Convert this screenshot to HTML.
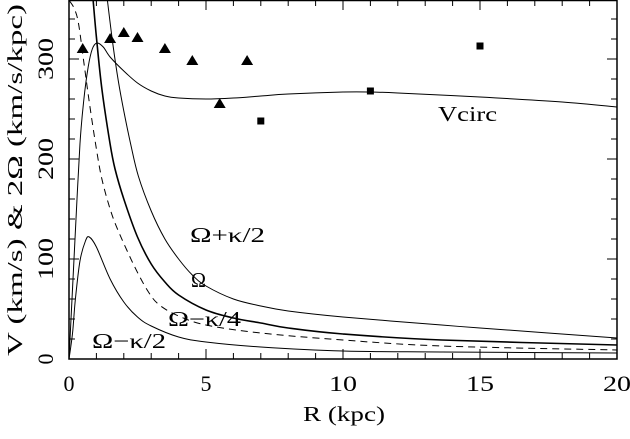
<!DOCTYPE html>
<html><head><meta charset="utf-8"><style>
html,body{margin:0;padding:0;background:#fff;}
svg{display:block;font-family:"Liberation Serif",serif;}
</style></head><body>
<svg id="chart" width="630" height="439" viewBox="0 0 630 439">
<g id="plot"></g>
<g id="axes"></g>
<text x="303" y="421" font-size="21" textLength="82" lengthAdjust="spacingAndGlyphs">R (kpc)</text>
<text transform="translate(22,356) rotate(-90)" font-size="21" textLength="352" lengthAdjust="spacingAndGlyphs">V (km/s) &amp; 2Ω (km/s/kpc)</text>
<text x="190" y="242" font-size="21" textLength="75" lengthAdjust="spacingAndGlyphs">Ω+κ/2</text>
<text x="191" y="287" font-size="21" textLength="15" lengthAdjust="spacingAndGlyphs">Ω</text>
<text x="168" y="326" font-size="21" textLength="73" lengthAdjust="spacingAndGlyphs">Ω−κ/4</text>
<text x="92" y="348" font-size="21" textLength="74" lengthAdjust="spacingAndGlyphs">Ω−κ/2</text>
<text x="438" y="121" font-size="21" textLength="59" lengthAdjust="spacingAndGlyphs">Vcirc</text>
</svg>
<script>
const vcR = [0,0.11,0.23,0.4,0.54,0.7,0.85,1.02,1.25,1.5,2,2.5,3,3.5,4,5,6,7,8,10,11,12,15,18,20];
const vcV = [0,60,126,215,259,292,310,316,312,302,288,276,268,263,261,260,261,263,265,267,267,266,262,257,252];
const omR = [0.88,1,1.2,1.5,1.68,2,2.5,3,3.5,4,5,6,7,8,10,13.6,20];
const omV = [359,322,270,215,190,160,122,95,77,64,49,41,36,31,25,19,14];
const opR = [1.4,1.6,1.8,2,2.25,2.53,3,3.5,4,4.5,5,6,7,8,10,13.6,15,20];
const opV = [359,315,278,248,215,183,148,120,100,84,73,60,53,48,42,34,31,21];
const oqR = [0.02,0.2,0.35,0.55,0.75,1,1.2,1.5,1.8,2.4,2.9,3.3,4,5,7,10,13.6,20];
const oqV = [358,350,335,295,255,210,180,150,128,92,67,54,43,34,26,19,13,9];
const ohR = [0,0.13,0.23,0.4,0.6,0.74,1,1.5,2,2.5,3,4,5,7,10,13.6,20];
const ohV = [0,26,59,98,118,122,112,80,57,42,33,22,17,12,8,7,6];
const triR = [0.5,1.5,2,2.5,3.5,4.5,5.5,6.5];
const triV = [310,320,326,321,310,298,255,298];
const sqR = [7,11,15];
const sqV = [238,268,313];
const xTicks = [0,5,10,15,20];
const yTicks = [0,100,200,300];

const X0=69,X1=617,Y0=359,Y1=0;
const xs = r => X0 + (r/20)*(X1-X0);
const ys = v => Y0 - (v/359)*(Y0-Y1);
const NS="http://www.w3.org/2000/svg";
const plot=document.getElementById('plot'), axes=document.getElementById('axes');
function mk(tag,attrs,parent){const e=document.createElementNS(NS,tag);for(const k in attrs)e.setAttribute(k,attrs[k]);parent.appendChild(e);return e;}

const defs=mk('defs',{},plot);
const cp=mk('clipPath',{id:'clip'},defs);
mk('rect',{x:X0,y:Y1,width:X1-X0,height:Y0-Y1},cp);

function smoothPath(pts){
  let d='M'+pts[0][0].toFixed(2)+','+pts[0][1].toFixed(2);
  for(let i=0;i<pts.length-1;i++){
    const p0=pts[Math.max(0,i-1)],p1=pts[i],p2=pts[i+1],p3=pts[Math.min(pts.length-1,i+2)];
    const c1x=p1[0]+(p2[0]-p0[0])/6, c1y=p1[1]+(p2[1]-p0[1])/6;
    const c2x=p2[0]-(p3[0]-p1[0])/6, c2y=p2[1]-(p3[1]-p1[1])/6;
    d+=`C${c1x.toFixed(2)},${c1y.toFixed(2)} ${c2x.toFixed(2)},${c2y.toFixed(2)} ${p2[0].toFixed(2)},${p2[1].toFixed(2)}`;
  }
  return d;
}
function curve(R,V,name,w,dash){
  const pts=R.map((r,i)=>[xs(r),ys(V[i])]);
  const p=mk('path',{d:smoothPath(pts),fill:'none',stroke:'#000','stroke-width':w,'clip-path':'url(#clip)','stroke-linejoin':'round'},plot);
  if(dash)p.setAttribute('stroke-dasharray',dash);
  
  
}
curve(vcR,vcV,'vcirc-curve',1,null);
curve(omR,omV,'omega-curve',1.6,null);
curve(opR,opV,'omega-plus-kappa-half-curve',1,null);
curve(oqR,oqV,'omega-minus-kappa-quarter-curve',1,'7,5');
curve(ohR,ohV,'omega-minus-kappa-half-curve',1,null);

for(let i=0;i<triR.length;i++){
  const cx=xs(triR[i]),cy=ys(triV[i]);
  const t=mk('polygon',{points:`${cx},${cy-6} ${cx-6},${cy+4} ${cx+6},${cy+4}`,fill:'#000'},plot);
  
  
}
for(let i=0;i<sqR.length;i++){
  const cx=xs(sqR[i]),cy=ys(sqV[i]);
  const s=mk('rect',{x:cx-3.5,y:cy-3.5,width:7,height:7,fill:'#000'},plot);
  
  
}

const fr=mk('rect',{x:X0,y:0.5,width:X1-X0,height:Y0-0.5,fill:'none',stroke:'#000','stroke-width':1.5},axes);


let td='';
for(let r=0;r<=20;r++){
  const x=xs(r),L=(r%5===0)?10:6;
  td+=`M${x},${Y0}v${-L}M${x},0v${L}`;
}
for(let v=0;v<=359;v+=20){
  const y=ys(v),L=(v%100===0)?10:6;
  td+=`M${X0},${y}h${L}M${X1},${y}h${-L}`;
}
const tk=mk('path',{d:td,stroke:'#000','stroke-width':1,fill:'none'},axes);


xTicks.forEach(t=>{
  const e=mk('text',{x:xs(t),y:391,'text-anchor':'middle','font-size':22},axes);
  e.textContent=String(t);
  if(t>=10){e.setAttribute('textLength','28');e.setAttribute('lengthAdjust','spacingAndGlyphs');}
  
  
});
yTicks.forEach(t=>{
  const e=mk('text',{transform:`translate(53,${ys(t)}) rotate(-90)`,'text-anchor':'middle','font-size':22},axes);
  e.textContent=String(t);
  if(t>=100){e.setAttribute('textLength','42');e.setAttribute('lengthAdjust','spacingAndGlyphs');}
  
  
});
</script>
</body></html>
